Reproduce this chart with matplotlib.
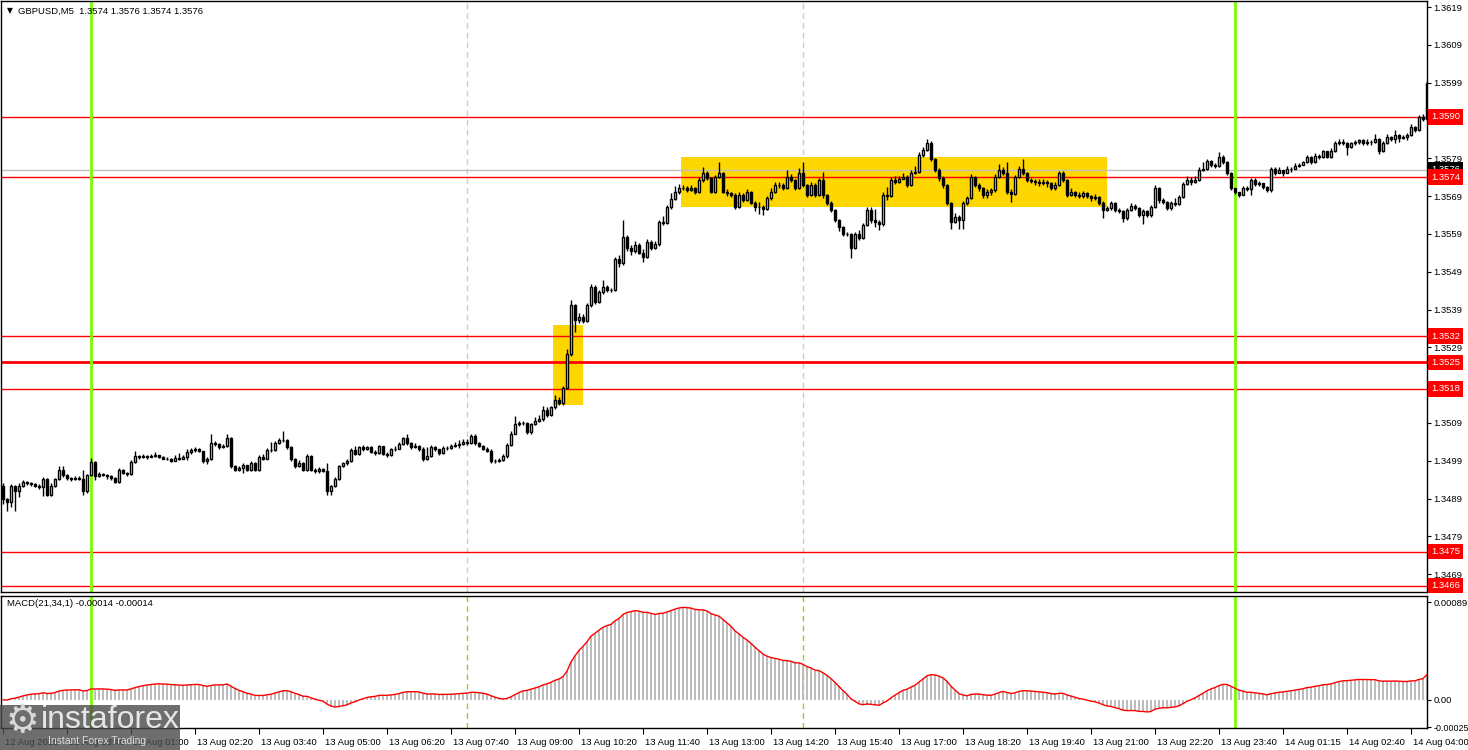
import matplotlib
matplotlib.use("Agg")
import matplotlib.pyplot as plt
import matplotlib.transforms as mtransforms
from matplotlib.patches import Rectangle
import numpy as np
import pandas as pd

plt.rcParams['font.family'] = ['Liberation Sans', 'DejaVu Sans']

symbol_title = "GBPUSD,M5  1.3574 1.3576 1.3574 1.3576"
macd_title = "MACD(21,34,1) -0.00014 -0.00014"

first_open = 1.34923
closes = [
1.34889, 1.34880, 1.34923, 1.34910, 1.34923, 1.34934, 1.34930, 1.34928, 1.34924, 1.34920,
1.34942, 1.34900, 1.34923, 1.34942, 1.34966, 1.34952, 1.34945, 1.34942, 1.34944, 1.34943,
1.34910, 1.34952, 1.34987, 1.34950, 1.34955, 1.34953, 1.34949, 1.34945, 1.34935, 1.34966,
1.34958, 1.34956, 1.34987, 1.35003, 1.35000, 1.35003, 1.35000, 1.35003, 1.35005, 1.35001,
1.34996, 1.34996, 1.34990, 1.34998, 1.34996, 1.35000, 1.35013, 1.35018, 1.35021, 1.35015,
1.34989, 1.34995, 1.35037, 1.35035, 1.35026, 1.35028, 1.35050, 1.34976, 1.34966, 1.34970,
1.34978, 1.34966, 1.34985, 1.34966, 1.35000, 1.34996, 1.35019, 1.35018, 1.35037, 1.35045,
1.35045, 1.35026, 1.34995, 1.34976, 1.34985, 1.34966, 1.35003, 1.34966, 1.34962, 1.34969,
1.34964, 1.34910, 1.34923, 1.34942, 1.34976, 1.34983, 1.34990, 1.35019, 1.35009, 1.35026,
1.35020, 1.35026, 1.35014, 1.35010, 1.35029, 1.35009, 1.35005, 1.35020, 1.35022, 1.35035,
1.35050, 1.35037, 1.35026, 1.35030, 1.35020, 1.34995, 1.35002, 1.35026, 1.35020, 1.35010,
1.35024, 1.35023, 1.35030, 1.35033, 1.35035, 1.35040, 1.35037, 1.35056, 1.35037, 1.35030,
1.35022, 1.35016, 1.34989, 1.34990, 1.34993, 1.35003, 1.35032, 1.35061, 1.35087, 1.35090,
1.35090, 1.35065, 1.35087, 1.35094, 1.35100, 1.35125, 1.35111, 1.35132, 1.35152, 1.35142,
1.35183, 1.35273, 1.35402, 1.35362, 1.35370, 1.35360, 1.35402, 1.35450, 1.35410, 1.35436,
1.35450, 1.35442, 1.35442, 1.35524, 1.35513, 1.35582, 1.35553, 1.35545, 1.35560, 1.35540,
1.35529, 1.35569, 1.35553, 1.35563, 1.35622, 1.35619, 1.35661, 1.35682, 1.35701, 1.35712,
1.35712, 1.35706, 1.35712, 1.35701, 1.35733, 1.35751, 1.35738, 1.35701, 1.35741, 1.35751,
1.35701, 1.35698, 1.35693, 1.35661, 1.35693, 1.35679, 1.35701, 1.35672, 1.35661, 1.35661,
1.35655, 1.35685, 1.35701, 1.35719, 1.35719, 1.35711, 1.35741, 1.35733, 1.35711, 1.35751,
1.35719, 1.35693, 1.35720, 1.35693, 1.35733, 1.35693, 1.35672, 1.35653, 1.35627, 1.35608,
1.35591, 1.35590, 1.35553, 1.35591, 1.35580, 1.35614, 1.35653, 1.35627, 1.35622, 1.35616,
1.35693, 1.35690, 1.35733, 1.35728, 1.35736, 1.35741, 1.35719, 1.35751, 1.35755, 1.35799,
1.35812, 1.35830, 1.35789, 1.35760, 1.35738, 1.35719, 1.35672, 1.35622, 1.35635, 1.35627,
1.35672, 1.35685, 1.35741, 1.35720, 1.35711, 1.35693, 1.35700, 1.35706, 1.35741, 1.35758,
1.35751, 1.35701, 1.35696, 1.35741, 1.35762, 1.35751, 1.35733, 1.35729, 1.35726, 1.35725,
1.35727, 1.35724, 1.35711, 1.35720, 1.35751, 1.35733, 1.35693, 1.35701, 1.35693, 1.35690,
1.35698, 1.35690, 1.35685, 1.35688, 1.35672, 1.35653, 1.35659, 1.35672, 1.35653, 1.35650,
1.35632, 1.35653, 1.35665, 1.35659, 1.35640, 1.35651, 1.35640, 1.35661, 1.35712, 1.35680,
1.35675, 1.35659, 1.35672, 1.35670, 1.35688, 1.35722, 1.35733, 1.35727, 1.35733, 1.35760,
1.35762, 1.35783, 1.35771, 1.35770, 1.35794, 1.35780, 1.35751, 1.35712, 1.35701, 1.35693,
1.35712, 1.35710, 1.35733, 1.35722, 1.35724, 1.35715, 1.35706, 1.35762, 1.35751, 1.35758,
1.35751, 1.35762, 1.35762, 1.35769, 1.35772, 1.35780, 1.35794, 1.35780, 1.35797, 1.35794,
1.35808, 1.35794, 1.35808, 1.35830, 1.35833, 1.35830, 1.35820, 1.35830, 1.35832, 1.35838,
1.35830, 1.35833, 1.35832, 1.35841, 1.35810, 1.35830, 1.35846, 1.35841, 1.35852, 1.35844,
1.35846, 1.35852, 1.35872, 1.35864, 1.35900, 1.35895, 1.35990]

highs = [
1.34930, 1.34892, 1.34928, 1.34926, 1.34930, 1.34938, 1.34936, 1.34934, 1.34932, 1.34928,
1.34946, 1.34944, 1.34930, 1.34945, 1.34975, 1.34976, 1.34955, 1.34948, 1.34950, 1.34949,
1.34966, 1.34956, 1.34998, 1.34989, 1.34960, 1.34959, 1.34955, 1.34952, 1.34948, 1.34970,
1.34968, 1.34961, 1.34992, 1.35015, 1.35006, 1.35007, 1.35005, 1.35008, 1.35012, 1.35006,
1.35002, 1.35000, 1.34998, 1.35004, 1.35010, 1.35006, 1.35020, 1.35024, 1.35026, 1.35023,
1.35016, 1.35000, 1.35060, 1.35043, 1.35036, 1.35034, 1.35061, 1.35052, 1.34979, 1.34976,
1.34984, 1.34980, 1.34990, 1.34986, 1.35005, 1.35008, 1.35023, 1.35040, 1.35042, 1.35050,
1.35069, 1.35048, 1.35028, 1.34998, 1.34993, 1.34988, 1.35008, 1.35005, 1.34970, 1.34974,
1.34972, 1.34983, 1.34926, 1.34946, 1.34980, 1.34988, 1.34994, 1.35024, 1.35028, 1.35030,
1.35031, 1.35030, 1.35028, 1.35019, 1.35032, 1.35030, 1.35014, 1.35025, 1.35028, 1.35040,
1.35054, 1.35061, 1.35040, 1.35036, 1.35032, 1.35026, 1.35026, 1.35032, 1.35028, 1.35022,
1.35030, 1.35028, 1.35035, 1.35040, 1.35046, 1.35048, 1.35048, 1.35060, 1.35061, 1.35039,
1.35033, 1.35026, 1.35020, 1.34996, 1.34997, 1.35007, 1.35036, 1.35068, 1.35108, 1.35096,
1.35095, 1.35092, 1.35091, 1.35105, 1.35112, 1.35135, 1.35132, 1.35136, 1.35163, 1.35160,
1.35188, 1.35285, 1.35415, 1.35404, 1.35380, 1.35377, 1.35408, 1.35458, 1.35454, 1.35442,
1.35468, 1.35455, 1.35448, 1.35528, 1.35535, 1.35627, 1.35586, 1.35562, 1.35570, 1.35565,
1.35550, 1.35576, 1.35574, 1.35572, 1.35628, 1.35638, 1.35667, 1.35698, 1.35718, 1.35723,
1.35720, 1.35718, 1.35720, 1.35714, 1.35740, 1.35767, 1.35756, 1.35740, 1.35746, 1.35780,
1.35754, 1.35710, 1.35702, 1.35698, 1.35702, 1.35698, 1.35708, 1.35704, 1.35678, 1.35674,
1.35666, 1.35690, 1.35712, 1.35726, 1.35728, 1.35724, 1.35760, 1.35748, 1.35736, 1.35764,
1.35780, 1.35722, 1.35726, 1.35724, 1.35738, 1.35754, 1.35696, 1.35676, 1.35656, 1.35630,
1.35610, 1.35596, 1.35592, 1.35596, 1.35600, 1.35620, 1.35660, 1.35660, 1.35656, 1.35626,
1.35702, 1.35714, 1.35740, 1.35744, 1.35742, 1.35752, 1.35746, 1.35760, 1.35770, 1.35806,
1.35820, 1.35841, 1.35836, 1.35792, 1.35764, 1.35742, 1.35722, 1.35674, 1.35646, 1.35640,
1.35678, 1.35690, 1.35748, 1.35744, 1.35724, 1.35714, 1.35708, 1.35712, 1.35748, 1.35776,
1.35768, 1.35780, 1.35710, 1.35746, 1.35770, 1.35788, 1.35754, 1.35738, 1.35734, 1.35734,
1.35736, 1.35732, 1.35726, 1.35726, 1.35756, 1.35756, 1.35736, 1.35712, 1.35704, 1.35700,
1.35704, 1.35702, 1.35694, 1.35696, 1.35690, 1.35676, 1.35664, 1.35676, 1.35674, 1.35658,
1.35654, 1.35658, 1.35672, 1.35668, 1.35662, 1.35656, 1.35654, 1.35666, 1.35720, 1.35714,
1.35684, 1.35678, 1.35678, 1.35686, 1.35694, 1.35728, 1.35744, 1.35740, 1.35742, 1.35766,
1.35780, 1.35788, 1.35786, 1.35778, 1.35807, 1.35798, 1.35782, 1.35754, 1.35706, 1.35702,
1.35716, 1.35716, 1.35738, 1.35738, 1.35730, 1.35724, 1.35718, 1.35768, 1.35766, 1.35768,
1.35760, 1.35770, 1.35768, 1.35778, 1.35778, 1.35784, 1.35798, 1.35796, 1.35804, 1.35802,
1.35812, 1.35810, 1.35818, 1.35836, 1.35840, 1.35842, 1.35834, 1.35834, 1.35838, 1.35842,
1.35842, 1.35840, 1.35838, 1.35854, 1.35844, 1.35836, 1.35854, 1.35850, 1.35866, 1.35854,
1.35852, 1.35856, 1.35880, 1.35876, 1.35904, 1.35906, 1.35995]

lows = [
1.34875, 1.34857, 1.34868, 1.34857, 1.34895, 1.34920, 1.34926, 1.34924, 1.34920, 1.34916,
1.34898, 1.34896, 1.34898, 1.34920, 1.34938, 1.34948, 1.34940, 1.34936, 1.34938, 1.34939,
1.34899, 1.34905, 1.34950, 1.34940, 1.34948, 1.34949, 1.34943, 1.34940, 1.34930, 1.34932,
1.34954, 1.34950, 1.34953, 1.34985, 1.34996, 1.34998, 1.34996, 1.34999, 1.35000, 1.34997,
1.34994, 1.34993, 1.34986, 1.34989, 1.34992, 1.34994, 1.34992, 1.35009, 1.35014, 1.35012,
1.34985, 1.34982, 1.34993, 1.35028, 1.35022, 1.35023, 1.35026, 1.34972, 1.34962, 1.34963,
1.34958, 1.34962, 1.34963, 1.34962, 1.34964, 1.34992, 1.34994, 1.35013, 1.35015, 1.35035,
1.35040, 1.35022, 1.34990, 1.34972, 1.34973, 1.34962, 1.34964, 1.34962, 1.34958, 1.34959,
1.34960, 1.34900, 1.34900, 1.34920, 1.34940, 1.34974, 1.34978, 1.34988, 1.35005, 1.35006,
1.35016, 1.35018, 1.35010, 1.35006, 1.35008, 1.35005, 1.35001, 1.35003, 1.35016, 1.35020,
1.35032, 1.35033, 1.35022, 1.35024, 1.35016, 1.34990, 1.34991, 1.35000, 1.35016, 1.35006,
1.35008, 1.35019, 1.35020, 1.35027, 1.35024, 1.35033, 1.35033, 1.35034, 1.35032, 1.35026,
1.35018, 1.35012, 1.34985, 1.34984, 1.34988, 1.34989, 1.34998, 1.35030, 1.35060, 1.35082,
1.35085, 1.35060, 1.35062, 1.35084, 1.35092, 1.35096, 1.35106, 1.35108, 1.35128, 1.35138,
1.35137, 1.35180, 1.35268, 1.35330, 1.35355, 1.35355, 1.35356, 1.35398, 1.35405, 1.35408,
1.35432, 1.35436, 1.35436, 1.35438, 1.35502, 1.35508, 1.35546, 1.35535, 1.35540, 1.35536,
1.35515, 1.35525, 1.35548, 1.35550, 1.35558, 1.35614, 1.35615, 1.35656, 1.35680, 1.35696,
1.35706, 1.35700, 1.35704, 1.35696, 1.35698, 1.35728, 1.35732, 1.35698, 1.35698, 1.35738,
1.35697, 1.35690, 1.35688, 1.35655, 1.35658, 1.35674, 1.35676, 1.35668, 1.35650, 1.35644,
1.35640, 1.35652, 1.35680, 1.35698, 1.35712, 1.35706, 1.35708, 1.35726, 1.35706, 1.35708,
1.35714, 1.35688, 1.35690, 1.35688, 1.35690, 1.35686, 1.35666, 1.35648, 1.35622, 1.35598,
1.35585, 1.35584, 1.35526, 1.35550, 1.35575, 1.35576, 1.35610, 1.35620, 1.35608, 1.35600,
1.35612, 1.35680, 1.35688, 1.35722, 1.35724, 1.35734, 1.35714, 1.35716, 1.35748, 1.35752,
1.35794, 1.35808, 1.35782, 1.35755, 1.35730, 1.35712, 1.35666, 1.35604, 1.35618, 1.35602,
1.35604, 1.35666, 1.35682, 1.35714, 1.35704, 1.35686, 1.35684, 1.35694, 1.35702, 1.35738,
1.35746, 1.35696, 1.35674, 1.35692, 1.35738, 1.35746, 1.35728, 1.35724, 1.35720, 1.35716,
1.35720, 1.35714, 1.35706, 1.35706, 1.35716, 1.35728, 1.35688, 1.35690, 1.35688, 1.35684,
1.35686, 1.35686, 1.35676, 1.35680, 1.35666, 1.35632, 1.35650, 1.35652, 1.35648, 1.35646,
1.35622, 1.35628, 1.35650, 1.35652, 1.35634, 1.35616, 1.35634, 1.35636, 1.35658, 1.35672,
1.35668, 1.35652, 1.35654, 1.35664, 1.35666, 1.35684, 1.35720, 1.35720, 1.35724, 1.35730,
1.35756, 1.35758, 1.35766, 1.35764, 1.35768, 1.35774, 1.35746, 1.35706, 1.35696, 1.35688,
1.35692, 1.35704, 1.35693, 1.35716, 1.35718, 1.35710, 1.35700, 1.35702, 1.35746, 1.35750,
1.35744, 1.35750, 1.35754, 1.35762, 1.35766, 1.35772, 1.35778, 1.35776, 1.35778, 1.35789,
1.35792, 1.35790, 1.35792, 1.35806, 1.35826, 1.35824, 1.35800, 1.35816, 1.35826, 1.35828,
1.35826, 1.35824, 1.35824, 1.35830, 1.35802, 1.35806, 1.35828, 1.35836, 1.35830, 1.35834,
1.35840, 1.35838, 1.35850, 1.35860, 1.35862, 1.35888, 1.35892]

x_tick_labels = ["12 Aug 2025", "12 Aug 23:40", "13 Aug 01:00", "13 Aug 02:20", "13 Aug 03:40",
                 "13 Aug 05:00", "13 Aug 06:20", "13 Aug 07:40", "13 Aug 09:00", "13 Aug 10:20",
                 "13 Aug 11:40", "13 Aug 13:00", "13 Aug 14:20", "13 Aug 15:40", "13 Aug 17:00",
                 "13 Aug 18:20", "13 Aug 19:40", "13 Aug 21:00", "13 Aug 22:20", "13 Aug 23:40",
                 "14 Aug 01:15", "14 Aug 02:40", "14 Aug 04:00"]
x_tick_bars = [16 * k for k in range(len(x_tick_labels))]

price_ticks = [1.3469, 1.3479, 1.3489, 1.3499, 1.3509, 1.3519, 1.3529, 1.3539, 1.3549,
               1.3559, 1.3569, 1.3579, 1.3589, 1.3599, 1.3609, 1.3619]
level_lines = [1.3590, 1.3574, 1.3532, 1.3525, 1.3518, 1.3475, 1.3466]
level_widths = [1, 1, 1, 2, 1, 1, 1]
current_price = 1.3576
green_bars = [22, 308]
session_bars = [116, 200]
boxes = [(138, 145, 1.35138, 1.35349), (170, 276, 1.35661, 1.35794)]
macd_ticks = [0.00089, 0.0, -0.00025]
macd_tick_labels = ["0.00089", "0.00", "-0.00025"]

n = min(len(closes), len(highs), len(lows))
closes = closes[:n]; highs = highs[:n]; lows = lows[:n]
opens = [first_open] + closes[:-1]
idx = np.arange(n)

W, H = 1468, 750
fig = plt.figure(figsize=(W / 100, H / 100), dpi=100)
ax = fig.add_axes([1 / W, 1 - 592 / H, 1426 / W, 591 / H])
ax2 = fig.add_axes([1 / W, 1 - 728 / H, 1426 / W, 132 / H])

xmin, xmax = -0.5, 356.0
ax.set_xlim(xmin, xmax)
ax2.set_xlim(xmin, xmax)
ax.set_ylim(1.34643, 1.36206)
ax2.set_ylim(-0.000257, 0.000945)

# yellow boxes
for (a, b, lo, hi) in boxes:
    ax.add_patch(Rectangle((a - 0.5, lo), b - a + 0.5, hi - lo, facecolor='#FFD700',
                           edgecolor='none', zorder=1))

# levels
for lv, lw in zip(level_lines, level_widths):
    ax.axhline(lv, color='#FF0000', lw=lw, zorder=2)
ax.axhline(current_price, color='#C0C0C0', lw=1, zorder=1.5)

for gb in green_bars:
    ax.axvline(gb, color='#7CFC00', lw=2, zorder=2.5)
    ax2.axvline(gb, color='#7CFC00', lw=2, zorder=2.5)
for sb in session_bars:
    ax.axvline(sb, color='#c4d9a8', lw=1, ls=(0, (4, 3)), zorder=1.2)
    ax2.axvline(sb, color='#9ACD32', lw=1, ls=(0, (4, 3)), zorder=1.2)

# candles
o = np.array(opens); c = np.array(closes); h = np.array(highs); l = np.array(lows)
top = np.maximum(o, c); bot = np.minimum(o, c)
ax.vlines(idx, np.minimum(l, bot), np.maximum(h, top), color='black', lw=1, zorder=3)
up = c >= o
ax.bar(idx[up], top[up] - bot[up], bottom=bot[up], width=0.65, color='white',
       edgecolor='black', linewidth=1.0, zorder=4)
ax.bar(idx[~up], top[~up] - bot[~up], bottom=bot[~up], width=0.65, color='black',
       edgecolor='black', linewidth=1.0, zorder=4)

# MACD
s = pd.Series(closes)
macd = (s.ewm(span=21, adjust=False).mean() - s.ewm(span=34, adjust=False).mean()).values
ax2.bar(idx, macd, width=0.5, color='#BDBDBD', zorder=2)
ax2.plot(idx, macd, color='#FF0000', lw=1, zorder=3)

# axes styling
for a in (ax, ax2):
    for sp in a.spines.values():
        sp.set_color('black')
        sp.set_linewidth(1)
    a.yaxis.tick_right()
    a.tick_params(axis='y', direction='out', length=3, width=0.8, labelsize=6.8, pad=1.5)

ax.set_xticks([])
ax.set_yticks(price_ticks)
ax.set_yticklabels(["%.4f" % p for p in price_ticks])

ax2.set_yticks(macd_ticks)
ax2.set_yticklabels(macd_tick_labels)
for lbl in ax2.get_yticklabels():
    if lbl.get_text().startswith('-'):
        lbl.set_fontsize(6.4)
ax2.set_xticks(x_tick_bars)
ax2.set_xticklabels(x_tick_labels)
ax2.tick_params(axis='x', direction='out', length=4, width=0.8, labelsize=6.8, pad=3)
offset = mtransforms.ScaledTranslation(1.5 / 72, 0, fig.dpi_scale_trans)
for lbl in ax2.get_xticklabels():
    lbl.set_horizontalalignment('left')
    lbl.set_transform(lbl.get_transform() + offset)

# right side price labels
trans = mtransforms.blended_transform_factory(ax.transAxes, ax.transData)
xl = 1.0 + 4 / 1426
ax.text(xl, current_price, "%.4f" % current_price, transform=trans, fontsize=6.8,
        color='white', va='center', ha='left', zorder=10, clip_on=False,
        bbox=dict(boxstyle='square,pad=0.35', fc='black', ec='none'))
for lv in level_lines:
    ax.text(xl, lv, "%.4f" % lv, transform=trans, fontsize=6.8, color='white',
            va='center', ha='left', zorder=11, clip_on=False,
            bbox=dict(boxstyle='square,pad=0.35', fc='#FF0000', ec='none'))

# titles
fig.text(7 / W, 1 - 11 / H, "\u25BC", fontsize=5.5, color='black', va='center', ha='left',
         family='DejaVu Sans')
fig.text(18 / W, 1 - 11 / H, symbol_title, fontsize=6.8, color='black', va='center', ha='left')
fig.text(7 / W, 1 - 604 / H, macd_title, fontsize=6.8, color='black', va='center', ha='left')

# watermark
fig.patches.append(Rectangle((0, 0), 180 / W, 45 / H, transform=fig.transFigure,
                             facecolor='#4a4a4a', alpha=0.8, edgecolor='none', zorder=20))
fig.text(22 / W, 1 - 722 / H, "\u2699", fontsize=27, color='#d8d8d8', va='center',
         ha='center', family='DejaVu Sans', zorder=21)
fig.text(41 / W, 1 - 720 / H, "instaforex", fontsize=23, color='#e6e6e6', va='center',
         ha='left', zorder=21)
fig.text(48 / W, 1 - 741 / H, "Instant Forex Trading", fontsize=7.5, color='#dcdcdc',
         va='center', ha='left', zorder=21)

fig.savefig("out.png", dpi=100, facecolor='white')
